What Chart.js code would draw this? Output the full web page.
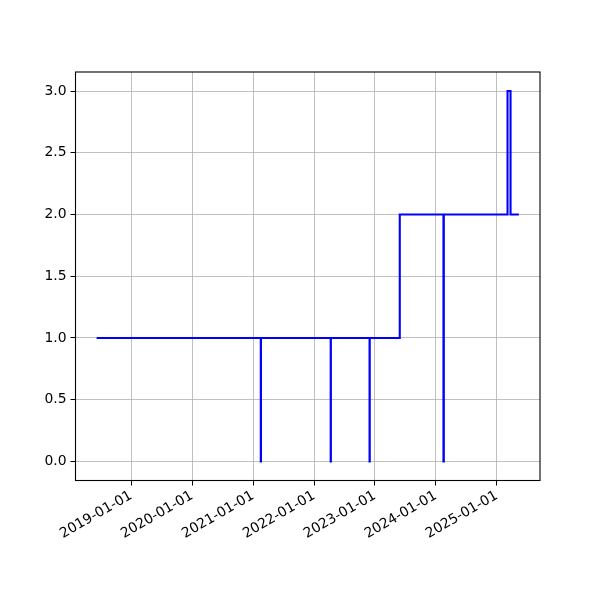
<!DOCTYPE html>
<html>
<head>
<meta charset="utf-8">
<script src="https://cdn.jsdelivr.net/npm/chart.js@4/dist/chart.umd.min.js"></script>
<style>
  html, body { margin: 0; padding: 0; background: #fff; }
  #wrap { width: 600px; height: 600px; }
</style>
</head>
<body>
<div id="wrap"><canvas id="stepChart" width="600" height="600"></canvas></div>
<script>
// change dates and the value held from each date on (step-post)
const changeDates = [
  '2018-06-08', '2021-02-16', '2021-02-17', '2022-04-11', '2022-04-12',
  '2022-11-30', '2022-12-01', '2023-05-30', '2024-02-16', '2024-02-18',
  '2025-03-06', '2025-03-24', '2025-05-13'
];
const levels = [1, 0, 1, 0, 1, 0, 1, 2, 0, 2, 3, 2, 2];
const yearTicks = [2019, 2020, 2021, 2022, 2023, 2024, 2025];
const yTicks = [0, 0.5, 1, 1.5, 2, 2.5, 3];

function toMs(s) {
  const p = s.split('-').map(Number);
  return Date.UTC(p[0], p[1] - 1, p[2]);
}
function fmtDate(ms) {
  const d = new Date(ms);
  const pad = n => String(n).padStart(2, '0');
  return d.getUTCFullYear() + '-' + pad(d.getUTCMonth() + 1) + '-' + pad(d.getUTCDate());
}

const points = changeDates.map((d, i) => ({ x: toMs(d), y: levels[i] }));
const xs = points.map(p => p.x);
const xSpan = Math.max(...xs) - Math.min(...xs);
const xMin = Math.min(...xs) - 0.05 * xSpan;
const xMax = Math.max(...xs) + 0.05 * xSpan;

const tickFont = { family: 'DejaVu Sans', size: 13.9 };

// draw the full box around the plot area like matplotlib
const frameBox = {
  id: 'frameBox',
  afterDraw(chart) {
    const a = chart.chartArea, ctx = chart.ctx;
    ctx.save();
    ctx.strokeStyle = '#000';
    ctx.lineWidth = 1.1;
    ctx.strokeRect(a.left, a.top, a.right - a.left, a.bottom - a.top);
    ctx.restore();
  }
};

new Chart(document.getElementById('stepChart').getContext('2d'), {
  type: 'line',
  data: {
    datasets: [{
      data: points,
      borderColor: '#0000ff',
      borderWidth: 2.1,
      stepped: 'before',
      pointRadius: 0,
      fill: false
    }]
  },
  options: {
    responsive: false,
    animation: false,
    layout: { padding: { left: 0, top: 72, right: 60, bottom: 0 } },
    plugins: { legend: { display: false }, tooltip: { enabled: false } },
    scales: {
      x: {
        type: 'linear',
        min: xMin,
        max: xMax,
        afterBuildTicks: s => { s.ticks = yearTicks.map(y => ({ value: Date.UTC(y, 0, 1) })); },
        afterFit: s => { s.height = 119.5; },
        grid: { color: '#b0b0b0', lineWidth: 0.8, tickColor: '#000', tickLength: 5, tickWidth: 1 },
        border: { display: false },
        ticks: {
          color: '#000',
          font: tickFont,
          minRotation: 30,
          maxRotation: 30,
          autoSkip: false,
          padding: 2,
          callback: v => fmtDate(v)
        }
      },
      y: {
        min: -0.154,
        max: 3.154,
        afterBuildTicks: s => { s.ticks = yTicks.map(v => ({ value: v })); },
        afterFit: s => { s.width = 75.5; },
        grid: { color: '#b0b0b0', lineWidth: 0.8, tickColor: '#000', tickLength: 5, tickWidth: 1 },
        border: { display: false },
        ticks: {
          color: '#000',
          font: tickFont,
          padding: 4,
          callback: v => v.toFixed(1)
        }
      }
    }
  },
  plugins: [frameBox]
});
</script>
</body>
</html>
